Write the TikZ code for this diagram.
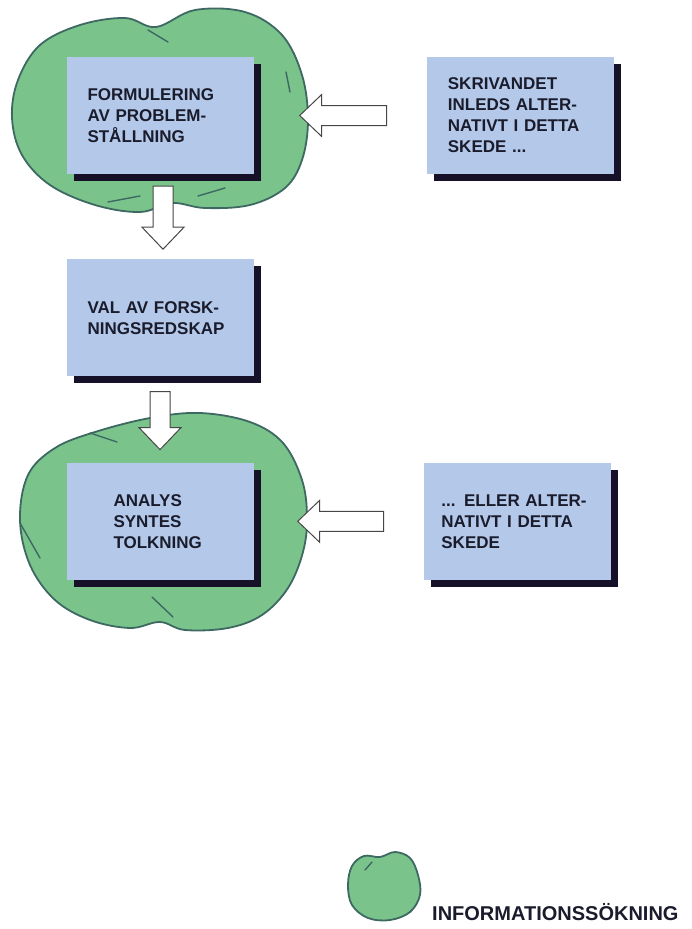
\documentclass[tikz,border=0pt]{standalone}
\usepackage{fontspec}
\setsansfont{Liberation Sans}
\usepackage{tikz}
\usetikzlibrary{positioning,calc,shadows}

\definecolor{cloudgreen}{RGB}{122,196,140}
\definecolor{cloudline}{RGB}{62,104,98}
\definecolor{boxblue}{RGB}{180,201,234}
\definecolor{shadowc}{RGB}{22,16,40}
\definecolor{textc}{RGB}{26,28,44}
\definecolor{arrowline}{RGB}{70,70,70}

\begin{document}
\begin{tikzpicture}[x=1pt, y=-1pt,
        phase/.style={rectangle, fill=boxblue, text=textc, minimum height=117pt,
            text width=145pt, inner xsep=21pt, inner ysep=0pt, align=left,
            font=\sffamily\bfseries\fontsize{17}{21}\selectfont,
            general shadow={fill=shadowc, shadow xshift=7pt, shadow yshift=-7pt}},
        infocloud/.style={draw=cloudline, fill=cloudgreen, line width=1.8pt, line join=round},
        fold/.style={draw=cloudline, line width=1.4pt, line cap=round},
        fatarrow/.style={draw=arrowline, fill=white, line width=1pt, line join=miter,
            to path={($(\tikztostart)!10pt!90:(\tikztotarget)$)
                -- ($(\tikztotarget)!22pt!(\tikztostart)!10pt!90:(\tikztotarget)$)
                -- ($(\tikztotarget)!22pt!(\tikztostart)!21pt!90:(\tikztotarget)$)
                -- (\tikztotarget)
                -- ($(\tikztotarget)!22pt!(\tikztostart)!21pt!-90:(\tikztotarget)$)
                -- ($(\tikztotarget)!22pt!(\tikztostart)!10pt!-90:(\tikztotarget)$)
                -- ($(\tikztostart)!10pt!-90:(\tikztotarget)$) -- cycle}}]
    \useasboundingbox (0,0) rectangle (691,929);

    % information search clouds
    \draw[infocloud] plot[smooth cycle, tension=0.6] coordinates {
        (12,118) (18,80) (40,45) (80,25) (125,18) (156,27) (195,10) (245,12)
        (282,35) (302,75) (308,120) (302,160) (285,188) (250,205) (205,208)
        (172,203) (140,212) (95,205) (50,185) (22,155)};
    \draw[fold] (148,30) -- (168,42);
    \draw[fold] (108,202) -- (140,196);
    \draw[fold] (198,196) -- (225,188);
    \draw[fold] (286,72) -- (290,92);

    \draw[infocloud] plot[smooth cycle, tension=0.6] coordinates {
        (20,520) (28,475) (55,448) (95,432) (150,418) (200,413) (250,422)
        (283,443) (302,480) (307,517) (303,552) (288,588) (262,615) (228,628)
        (185,630) (160,622) (130,628) (90,620) (55,600) (30,565)};
    \draw[fold] (90,433) -- (117,442);
    \draw[fold] (20,523) -- (40,558);
    \draw[fold] (152,597) -- (173,617);

    % phases
    \node[phase] (form) at (160,115.5) {FORMULERING\\AV PROBLEM-\\STÅLLNING};
    \node[phase, below=85pt of form] (val) {VAL AV FORSK-\\NINGSREDSKAP};
    \node[phase, below=86pt of val, text width=93pt, inner xsep=47pt] (analys) {ANALYS\\SYNTES\\TOLKNING};
    \node[phase, right=173pt of form] (skriv) {SKRIVANDET\\INLEDS ALTER-\\NATIVT I DETTA\\SKEDE ...};
    \node[phase, right=170pt of analys, text width=152pt, inner xsep=17.5pt] (eller) {... ELLER ALTER-\\NATIVT I DETTA\\SKEDE};

    % arrow ends
    \coordinate (form-out) at ([xshift=3pt,yshift=-12pt]form.south);
    \coordinate (val-in) at ([xshift=3pt,yshift=10pt]val.north);
    \coordinate (val-out) at ([yshift=-15pt]val.south);
    \coordinate (analys-in) at ([yshift=13pt]analys.north);
    \coordinate (skriv-out) at ([xshift=-40pt]skriv.west);
    \coordinate (form-in) at ($(form.east |- skriv.west)+(46,0)$);
    \coordinate (eller-out) at ([xshift=-40pt]eller.west);
    \coordinate (analys-side) at ($(analys.east |- eller.west)+(44,0)$);

    \draw[fatarrow] (form-out) to (val-in);
    \draw[fatarrow] (val-out) to (analys-in);
    \draw[fatarrow] (skriv-out) to (form-in);
    \draw[fatarrow] (eller-out) to (analys-side);

    % legend
    \draw[infocloud] plot[smooth cycle, tension=0.6] coordinates {
        (348,885) (352,866) (364,856) (380,857) (395,852) (410,858)
        (418,875) (420,895) (410,912) (390,920) (368,918) (352,905)};
    \draw[fold] (372,862) -- (365,870);
    \node[anchor=base west, inner sep=0pt, text=textc,
        font=\sffamily\bfseries\fontsize{20}{24}\selectfont] (legend) at (432,920) {INFORMATIONSSÖKNING};
\end{tikzpicture}
\end{document}
